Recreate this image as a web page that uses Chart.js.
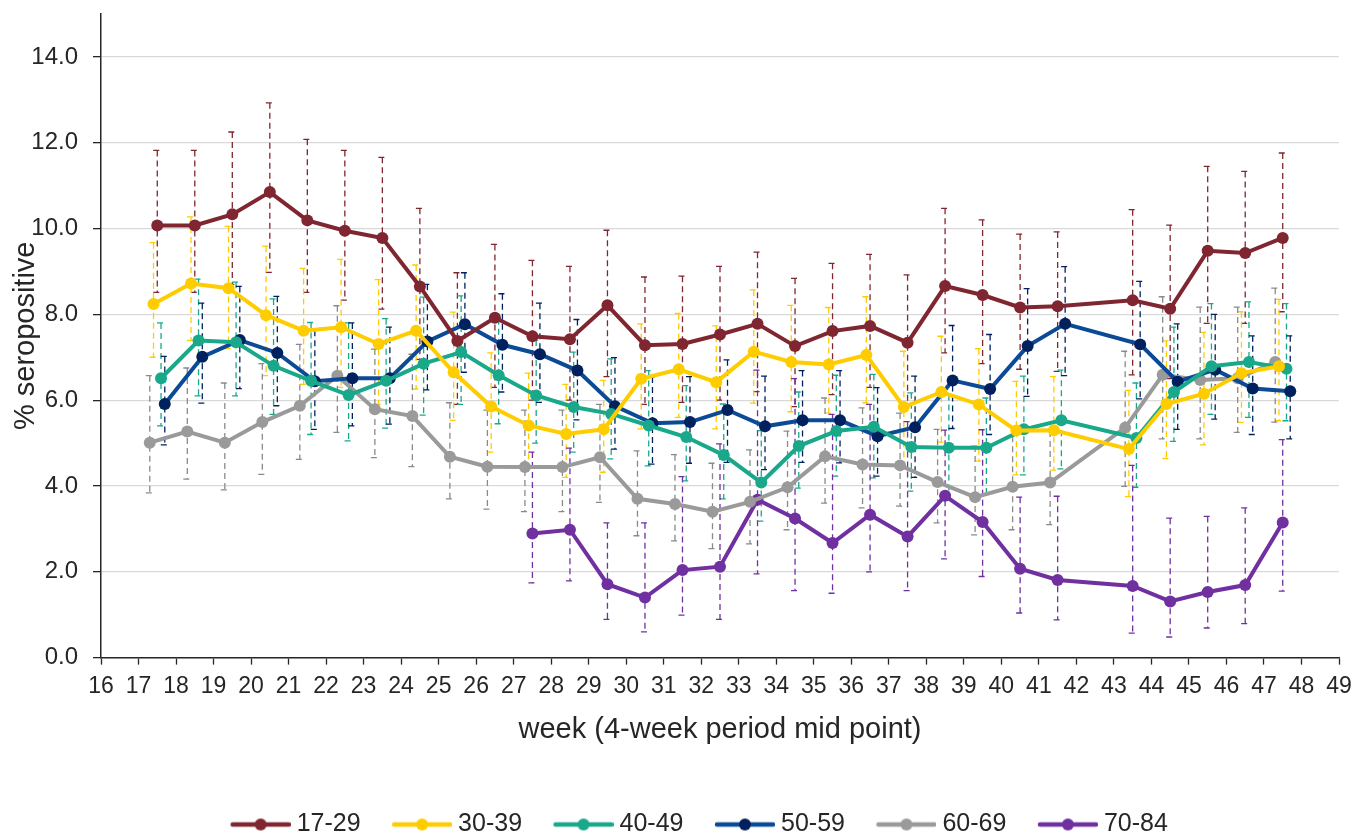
<!DOCTYPE html>
<html><head><meta charset="utf-8">
<script src="https://cdn.jsdelivr.net/npm/chart.js@4"></script>
<style>html,body{margin:0;padding:0;background:#fff;overflow:hidden}#wrap{width:1355px;height:835px;position:relative}</style>
</head><body><div id="wrap"><canvas id="c"></canvas></div>
<script>
// week (4-week period) — all series skip week 42
const weeks = [17,18,19,20,21,22,23,24,25,26,27,28,29,30,31,32,33,34,35,36,37,38,39,40,41,43,44,45,46,47];
const seriesNames = ['17-29','30-39','40-49','50-59','60-69','70-84'];
const yTicks = [0,2,4,6,8,10,12,14];

const val1729 = [10.07,10.07,10.33,10.85,10.19,9.95,9.78,8.65,7.38,7.92,7.49,7.42,8.21,7.28,7.31,7.53,7.78,7.26,7.61,7.73,7.34,8.66,8.45,8.16,8.19,8.33,8.13,9.48,9.43,9.78];
const lo1729  = [8.51,8.51,8.70,8.98,8.51,8.33,8.12,6.95,5.90,6.30,6.00,6.00,6.55,5.90,5.95,6.00,6.20,5.85,6.13,6.30,5.90,7.10,6.85,6.72,6.67,6.59,6.50,7.79,7.79,8.06];
const hi1729  = [11.82,11.82,12.25,12.93,12.08,11.82,11.66,10.47,8.97,9.63,9.26,9.12,9.96,8.87,8.89,9.12,9.45,8.84,9.19,9.40,8.92,10.47,10.20,9.87,9.92,10.44,10.08,11.45,11.33,11.76];

const val3039 = [8.24,8.72,8.61,7.98,7.62,7.70,7.31,7.62,6.65,5.85,5.41,5.21,5.32,6.50,6.72,6.42,7.13,6.89,6.83,7.05,5.84,6.19,5.90,5.29,5.30,4.86,5.91,6.15,6.63,6.79];
const lo3039  = [7.00,7.39,7.20,6.57,6.37,6.30,5.90,6.26,5.53,4.79,4.45,4.20,4.32,5.33,5.60,5.33,5.93,5.73,5.70,5.94,4.50,5.02,4.58,4.26,4.37,3.75,4.64,4.96,5.48,5.52];
const hi3039  = [9.67,10.27,10.05,9.59,9.07,9.28,8.81,9.15,8.05,7.10,6.63,6.37,6.46,7.78,8.02,7.73,8.57,8.21,8.16,8.41,7.14,7.49,7.20,6.44,6.55,6.23,7.38,7.58,8.06,8.35];

const val4049 = [6.51,7.39,7.35,6.80,6.45,6.12,6.45,6.85,7.12,6.58,6.11,5.84,5.68,5.41,5.14,4.72,4.08,4.93,5.28,5.38,4.91,4.89,4.89,5.32,5.53,5.12,6.19,6.79,6.89,6.73];
const lo4049  = [5.40,6.10,6.10,5.67,5.20,5.05,5.35,5.65,5.90,5.45,5.00,4.79,4.63,4.47,4.12,3.70,3.18,3.95,4.23,4.19,3.88,3.80,3.80,4.26,4.40,3.97,5.04,5.67,5.60,5.52];
const hi4049  = [7.80,8.82,8.75,8.36,7.81,7.80,7.90,8.40,8.43,7.90,7.40,7.12,6.96,6.69,6.34,5.91,5.29,6.19,6.58,6.60,6.17,6.13,6.05,6.56,6.70,6.40,7.70,8.25,8.29,8.25];

const val5059 = [5.91,7.01,7.40,7.10,6.44,6.51,6.51,7.37,7.77,7.29,7.07,6.69,5.86,5.46,5.49,5.77,5.39,5.53,5.53,5.16,5.37,6.46,6.26,7.26,7.78,7.30,6.43,6.71,6.27,6.21];
const lo5059  = [4.96,5.93,6.27,5.87,5.32,5.40,5.44,6.24,6.65,6.19,5.95,5.54,4.86,4.51,4.53,4.55,4.38,4.55,4.54,4.23,4.20,5.34,5.20,6.09,6.57,6.03,5.32,5.56,5.20,5.10];
const hi5059  = [7.02,8.26,8.65,8.42,7.63,7.80,7.70,8.70,8.97,8.48,8.26,7.88,6.99,6.54,6.55,6.94,6.56,6.69,6.69,6.29,6.56,7.74,7.53,8.60,9.11,8.77,7.78,8.00,7.50,7.50];

const val6069 = [5.01,5.27,5.01,5.49,5.87,6.57,5.79,5.63,4.68,4.45,4.44,4.44,4.67,3.70,3.58,3.40,3.63,3.97,4.69,4.50,4.48,4.09,3.74,3.98,4.08,5.36,6.59,6.47,6.51,6.89];
const lo6069  = [3.84,4.16,3.91,4.27,4.62,5.25,4.66,4.45,3.70,3.46,3.40,3.40,3.62,2.84,2.72,2.54,2.65,2.98,3.60,3.49,3.53,3.14,2.86,2.98,3.10,3.99,5.10,5.10,5.25,5.49];
const hi6069  = [6.57,6.75,6.40,6.85,7.30,8.20,7.19,7.07,5.94,5.77,5.77,5.77,5.90,4.82,4.73,4.53,4.84,5.28,6.05,5.82,5.70,5.32,4.93,5.16,5.28,7.14,8.41,8.17,8.17,8.61];

const val7084 = [null,null,null,null,null,null,null,null,null,null,2.89,2.98,1.71,1.40,2.04,2.12,3.68,3.24,2.67,3.33,2.82,3.77,3.16,2.07,1.81,1.67,1.31,1.53,1.69,3.15];
const lo7084  = [null,null,null,null,null,null,null,null,null,null,1.74,1.79,0.89,0.60,0.99,0.89,1.95,1.56,1.50,2.00,1.56,2.30,1.89,1.04,0.88,0.57,0.48,0.69,0.79,1.55];
const hi7084  = [null,null,null,null,null,null,null,null,null,null,4.79,4.88,3.14,3.14,4.22,4.98,6.70,6.50,5.67,5.90,5.50,5.30,5.31,3.74,3.76,4.48,3.25,3.29,3.49,5.08];

// styling (kept apart from the data)
const styles = [
  {offset:0.5, line:'#7f2630', point:'#7f2630', bar:'#7f2630'},
  {offset:0.4, line:'#ffcc00', point:'#ffcc00', bar:'#ffcc00'},
  {offset:0.6, line:'#19a98a', point:'#19a98a', bar:'#19a98a'},
  {offset:0.7, line:'#0a4a96', point:'#00205e', bar:'#00205e'},
  {offset:0.3, line:'#9a9a9a', point:'#9a9a9a', bar:'#8a8a8a'},
  {offset:0.5, line:'#7030a0', point:'#7030a0', bar:'#7030a0'}
];
const values = [val1729,val3039,val4049,val5059,val6069,val7084];
const lows = [lo1729,lo3039,lo4049,lo5059,lo6069,lo7084];
const highs = [hi1729,hi3039,hi4049,hi5059,hi6069,hi7084];

function makeIcon(lineColor, pointColor){
  const c = document.createElement('canvas');
  c.width = 98; c.height = 16;
  const g = c.getContext('2d');
  g.strokeStyle = lineColor; g.lineWidth = 4.5; g.lineCap = 'round';
  g.beginPath(); g.moveTo(40, 8); g.lineTo(96, 8); g.stroke();
  g.fillStyle = pointColor; g.beginPath(); g.arc(68, 8, 6, 0, Math.PI*2); g.fill();
  return c;
}
const icons = styles.map(s => makeIcon(s.line, s.point));

const datasets = seriesNames.map((name, k) => {
  const pts = [];
  weeks.forEach((w, i) => {
    if (values[k][i] !== null) pts.push({x: w + styles[k].offset, y: values[k][i], lo: lows[k][i], hi: highs[k][i]});
  });
  return {
    label: name, data: pts,
    borderColor: styles[k].line, backgroundColor: styles[k].point,
    pointBackgroundColor: styles[k].point, pointBorderColor: styles[k].point,
    borderWidth: 4, pointRadius: 6, pointBorderWidth: 0, tension: 0
  };
});

const errorBars = {
  id: 'errorBars',
  beforeDatasetsDraw(chart){
    const ctx = chart.ctx, ys = chart.scales.y;
    chart.data.datasets.forEach((ds, k) => {
      const meta = chart.getDatasetMeta(k);
      ctx.save();
      ctx.strokeStyle = styles[k].bar;
      ctx.lineWidth = 1.3;
      ctx.setLineDash([6, 4]);
      meta.data.forEach((el, i) => {
        const d = ds.data[i];
        const x = el.x, y1 = ys.getPixelForValue(d.hi), y2 = ys.getPixelForValue(d.lo);
        ctx.beginPath();
        ctx.moveTo(x, y1); ctx.lineTo(x, y2);
        ctx.moveTo(x - 4, y1); ctx.lineTo(x + 4, y1);
        ctx.moveTo(x - 4, y2); ctx.lineTo(x + 4, y2);
        ctx.stroke();
      });
      ctx.restore();
    });
  }
};

const FONT = "'Liberation Sans', Arial, sans-serif";
new Chart(document.getElementById('c'), {
  type: 'line',
  data: {datasets},
  plugins: [errorBars],
  options: {
    responsive: true, maintainAspectRatio: false, animation: false, devicePixelRatio: 1,
    events: [],
    layout: {padding: {top: 14, right: 16, left: 28, bottom: -12}},
    scales: {
      x: {
        type: 'linear', min: 16, max: 49,
        afterFit: s => { s.paddingLeft = 0; s.paddingRight = 0; },
        ticks: {stepSize: 1, font: {family: FONT, size: 23}, color: '#262626', padding: 8, maxRotation: 0, autoSkip: false, includeBounds: true},
        grid: {drawOnChartArea: false, drawTicks: true, tickLength: 7, tickColor: '#262626', tickWidth: 1.3},
        border: {color: '#262626', width: 1.5},
        title: {display: true, text: 'week (4-week period mid point)', font: {family: FONT, size: 29}, color: '#262626', padding: {top: 4, bottom: 65}}
      },
      y: {
        min: 0, max: 15,
        afterBuildTicks: s => { s.ticks = yTicks.map(v => ({value: v})); },
        afterFit: s => { s.width = 73; s.paddingTop = 0; s.paddingBottom = 0; },
        ticks: {stepSize: 2, includeBounds: false, font: {family: FONT, size: 24}, color: '#262626', padding: 15, callback: v => Number(v).toFixed(1)},
        grid: {color: '#d9d9d9', lineWidth: 1.3, tickLength: 8, tickColor: '#262626', tickWidth: 1.3},
        border: {color: '#262626', width: 1.5},
        title: {display: true, text: '% seropositive', font: {family: FONT, size: 29}, color: '#262626', padding: {top: -19, bottom: 0}}
      }
    },
    plugins: {
      tooltip: {enabled: false},
      legend: {
        position: 'bottom',
        labels: {
          usePointStyle: true, pointStyleWidth: 85, padding: 0,
          font: {family: FONT, size: 25, lineHeight: 1}, color: '#262626',
          generateLabels: chart => chart.data.datasets.map((ds, i) => ({
            text: ds.label, pointStyle: icons[i], fillStyle: ds.borderColor, strokeStyle: ds.borderColor,
            lineWidth: 0, hidden: false, datasetIndex: i, fontColor: '#262626'
          }))
        }
      }
    }
  }
});
</script></body></html>
